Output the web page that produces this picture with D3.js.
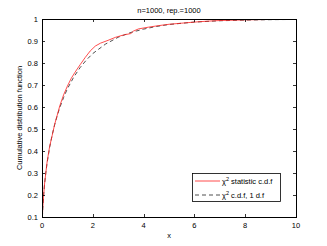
<!DOCTYPE html>
<html>
<head>
<meta charset="utf-8">
<script src="https://cdn.jsdelivr.net/npm/d3@7"></script>
<style>
  body { margin: 0; background: #fff; }
  svg text { font-family: "Liberation Sans", Arial, sans-serif; font-size: 7.5px; fill: #000; }
</style>
</head>
<body>
<svg width="327" height="246"></svg>
<script>
// empirical cdf of the statistic (red)
var empX = [0.015, 0.03, 0.06, 0.1, 0.15, 0.2, 0.3, 0.4, 0.5, 0.6, 0.7, 0.85, 1.0, 1.15, 1.3, 1.5, 1.7, 1.9, 2.1, 2.3, 2.6, 2.9, 3.2, 3.5, 3.6, 3.8, 4.2, 4.6, 5.0, 5.5, 6.0, 6.5, 7.0, 8.0, 9.0, 10];
var empY = [0.10, 0.14, 0.19, 0.25, 0.30, 0.35, 0.42, 0.47, 0.522, 0.563, 0.605, 0.655, 0.695, 0.73, 0.758, 0.792, 0.825, 0.855, 0.877, 0.89, 0.903, 0.917, 0.927, 0.934, 0.945, 0.955, 0.963, 0.970, 0.976, 0.981, 0.986, 0.990, 0.993, 0.996, 0.998, 1.0];
// chi2 cdf, 1 d.f. (dashed)
var chiX = [0.016, 0.03, 0.06, 0.1, 0.15, 0.2, 0.3, 0.4, 0.5, 0.6, 0.7, 0.85, 1.0, 1.25, 1.5, 1.75, 2.0, 2.5, 3.0, 3.5, 4.0, 4.5, 5.0, 6.0, 7.0, 8.0, 9.0, 10];
var chiY = [0.10, 0.137, 0.194, 0.248, 0.301, 0.345, 0.416, 0.473, 0.520, 0.561, 0.597, 0.643, 0.683, 0.736, 0.779, 0.814, 0.843, 0.886, 0.917, 0.939, 0.954, 0.966, 0.975, 0.986, 0.992, 0.995, 0.997, 0.998];

var xTicks = [0, 2, 4, 6, 8, 10];
var yTicks = [0.1, 0.2, 0.3, 0.4, 0.5, 0.6, 0.7, 0.8, 0.9, 1];

var plot = {left: 42, right: 296, top: 19, bottom: 217};
var tickLen = 3;

var svg = d3.select("svg");
var x = d3.scaleLinear().domain([0, 10]).range([plot.left, plot.right]);
var y = d3.scaleLinear().domain([0.1, 1]).range([plot.bottom, plot.top]);

svg.append("clipPath").attr("id", "clip")
    .append("rect")
    .attr("x", plot.left).attr("y", plot.top)
    .attr("width", plot.right - plot.left).attr("height", plot.bottom - plot.top);

var lines = svg.append("g").attr("clip-path", "url(#clip)");
var line = d3.line()
    .x(function(d) { return x(d[0]); })
    .y(function(d) { return y(d[1]); });

lines.append("path")
    .datum(chiX.map(function(v, i) { return [v, chiY[i]]; }))
    .attr("d", line)
    .attr("fill", "none")
    .attr("stroke", "#222")
    .attr("stroke-width", 0.8)
    .attr("stroke-dasharray", "4,3");

lines.append("path")
    .datum(empX.map(function(v, i) { return [v, empY[i]]; }))
    .attr("d", line)
    .attr("fill", "none")
    .attr("stroke", "#ff2020")
    .attr("stroke-width", 0.8);

// axes, MATLAB style: ticks inside on all four sides
var axisG = svg.append("g");
axisG.append("rect")
    .attr("x", plot.left + 0.5).attr("y", plot.top + 0.5)
    .attr("width", plot.right - plot.left).attr("height", plot.bottom - plot.top)
    .attr("fill", "none").attr("stroke", "#000").attr("stroke-width", 1);

xTicks.forEach(function(t) {
    var px = Math.round(x(t)) + 0.5;
    axisG.append("line").attr("x1", px).attr("x2", px)
        .attr("y1", plot.bottom).attr("y2", plot.bottom - tickLen)
        .attr("stroke", "#000").attr("stroke-width", 0.8);
    axisG.append("line").attr("x1", px).attr("x2", px)
        .attr("y1", plot.top).attr("y2", plot.top + tickLen)
        .attr("stroke", "#000").attr("stroke-width", 0.8);
    axisG.append("text")
        .attr("x", x(t)).attr("y", plot.bottom + 11)
        .attr("text-anchor", "middle")
        .text(t);
});

yTicks.forEach(function(t) {
    var py = Math.round(y(t)) + 0.5;
    axisG.append("line").attr("x1", plot.left).attr("x2", plot.left + tickLen)
        .attr("y1", py).attr("y2", py)
        .attr("stroke", "#000").attr("stroke-width", 0.8);
    axisG.append("line").attr("x1", plot.right).attr("x2", plot.right - tickLen)
        .attr("y1", py).attr("y2", py)
        .attr("stroke", "#000").attr("stroke-width", 0.8);
    axisG.append("text")
        .attr("x", plot.left - 4).attr("y", y(t) + 2.6)
        .attr("text-anchor", "end")
        .text(t);
});

svg.append("text")
    .attr("x", (plot.left + plot.right) / 2).attr("y", 12.5)
    .attr("text-anchor", "middle")
    .text("n=1000, rep.=1000");

svg.append("text")
    .attr("x", (plot.left + plot.right) / 2).attr("y", 238)
    .attr("text-anchor", "middle")
    .text("x");

svg.append("text")
    .attr("transform", "translate(22," + ((plot.top + plot.bottom) / 2) + ") rotate(-90)")
    .attr("text-anchor", "middle")
    .text("Cumulative distribution function");

// legend
var leg = svg.append("g");
leg.append("rect")
    .attr("x", 192.5).attr("y", 173.5).attr("width", 88).attr("height", 28)
    .attr("fill", "#fff").attr("stroke", "#000").attr("stroke-width", 0.8);

var legendItems = [
    {label: " statistic c.d.f", color: "#ff2020", dash: null, yy: 181},
    {label: " c.d.f, 1 d.f", color: "#222", dash: "4,3", yy: 195}
];
legendItems.forEach(function(it) {
    leg.append("line")
        .attr("x1", 195).attr("x2", 220)
        .attr("y1", it.yy).attr("y2", it.yy)
        .attr("stroke", it.color).attr("stroke-width", 0.8)
        .attr("stroke-dasharray", it.dash);
    var t = leg.append("text").attr("x", 222).attr("y", it.yy + 3);
    t.append("tspan").text("\u03c7");
    t.append("tspan").attr("dy", -3.5).attr("font-size", "5.5px").text("2");
    t.append("tspan").attr("dy", 3.5).text(it.label);
});
</script>
</body>
</html>
